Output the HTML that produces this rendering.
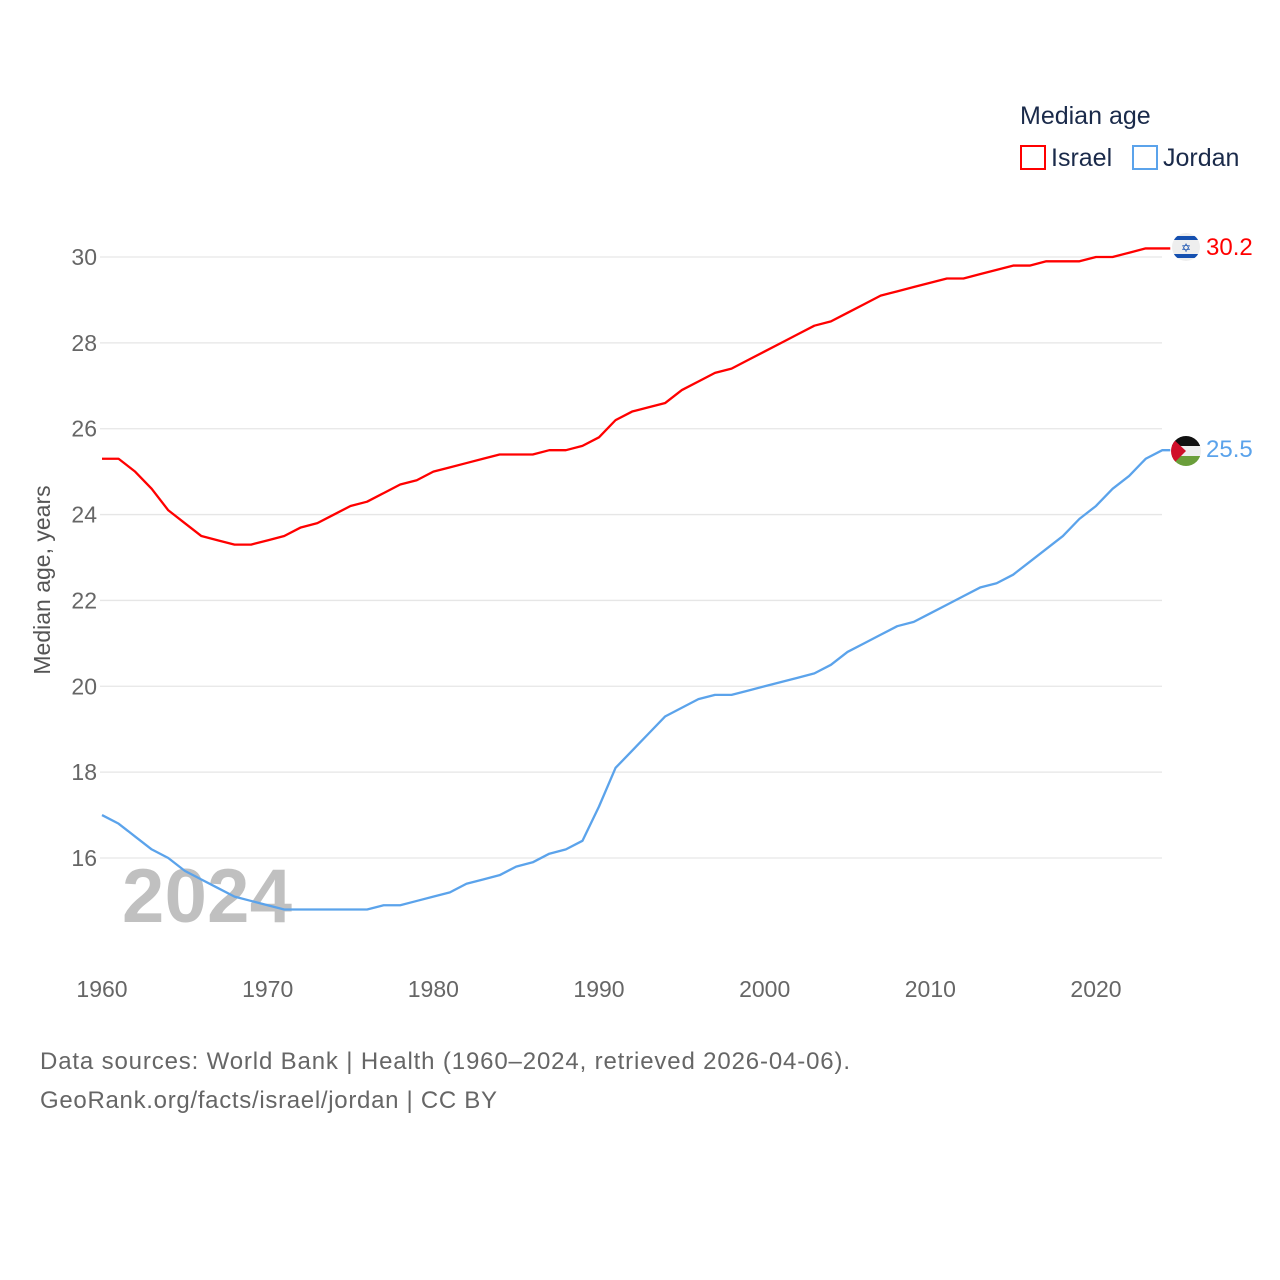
<!DOCTYPE html>
<html><head><meta charset="utf-8"><style>
body{margin:0;background:#fff;font-family:"Liberation Sans",sans-serif}
svg{display:block}
</style></head><body>
<svg id="chart" width="1280" height="1280" xmlns="http://www.w3.org/2000/svg">
<rect width="1280" height="1280" fill="#fff"/>
<g id="grid"></g>
<text x="122" y="922" font-size="76" font-weight="bold" fill="#c0c0c0" textLength="170">2024</text>
<g id="series"></g>
<g id="labels"></g>
<text transform="translate(50,580) rotate(-90)" text-anchor="middle" font-size="23" fill="#555">Median age, years</text>
<text x="1020" y="124" font-size="25" fill="#1a2a4a">Median age</text>
<g><rect x="1021" y="146" width="24" height="23" fill="none" stroke="#ff0000" stroke-width="2"/><text x="1051" y="166" font-size="25" fill="#1a2a4a">Israel</text></g>
<g><rect x="1133" y="146" width="24" height="23" fill="none" stroke="#5ba3eb" stroke-width="2"/><text x="1163" y="166" font-size="25" fill="#1a2a4a">Jordan</text></g>
<g><clipPath id="ci"><circle cx="1186" cy="247" r="14"/></clipPath><g clip-path="url(#ci)"><rect x="1170" y="231" width="32" height="32" fill="#eee"/><rect x="1170" y="236" width="32" height="4" fill="#1550b0"/><rect x="1170" y="254" width="32" height="4" fill="#1550b0"/><text x="1186" y="252" font-size="12" text-anchor="middle" fill="#1550b0">✡</text></g></g>
<g><clipPath id="cj"><circle cx="1186" cy="451" r="15"/></clipPath><g clip-path="url(#cj)"><rect x="1170" y="436" width="32" height="10" fill="#111"/><rect x="1170" y="446" width="32" height="10" fill="#eee"/><rect x="1170" y="456" width="32" height="11" fill="#6a9e3a"/><polygon points="1170,436 1186,451 1170,467" fill="#d0102a"/></g></g>
<text x="1206" y="255" font-size="24" fill="#ff0000">30.2</text>
<text x="1206" y="457" font-size="24" fill="#5ba3eb">25.5</text>
<text x="40" y="1069" font-size="24" fill="#666" textLength="810">Data sources: World Bank | Health (1960–2024, retrieved 2026-04-06).</text>
<text x="40" y="1108" font-size="24" fill="#666" textLength="457">GeoRank.org/facts/israel/jordan | CC BY</text>
</svg>
<script>
const years=[];for(let y=1960;y<=2024;y++)years.push(y);
const israel=[25.3,25.3,25.0,24.6,24.1,23.8,23.5,23.4,23.3,23.3,23.4,23.5,23.7,23.8,24.0,24.2,24.3,24.5,24.7,24.8,25.0,25.1,25.2,25.3,25.4,25.4,25.4,25.5,25.5,25.6,25.8,26.2,26.4,26.5,26.6,26.9,27.1,27.3,27.4,27.6,27.8,28.0,28.2,28.4,28.5,28.7,28.9,29.1,29.2,29.3,29.4,29.5,29.5,29.6,29.7,29.8,29.8,29.9,29.9,29.9,30.0,30.0,30.1,30.2,30.2];
const jordan=[17.0,16.8,16.5,16.2,16.0,15.7,15.5,15.3,15.1,15.0,14.9,14.8,14.8,14.8,14.8,14.8,14.8,14.9,14.9,15.0,15.1,15.2,15.4,15.5,15.6,15.8,15.9,16.1,16.2,16.4,17.2,18.1,18.5,18.9,19.3,19.5,19.7,19.8,19.8,19.9,20.0,20.1,20.2,20.3,20.5,20.8,21.0,21.2,21.4,21.5,21.7,21.9,22.1,22.3,22.4,22.6,22.9,23.2,23.5,23.9,24.2,24.6,24.9,25.3,25.5];
const yTicks=[16,18,20,22,24,26,28,30];
const xTicks=[1960,1970,1980,1990,2000,2010,2020];
const NS="http://www.w3.org/2000/svg";
const x=v=>102+(v-1960)*(1096-102)/60;
const y=v=>858-(v-16)*(601/14);
const grid=document.getElementById('grid'),lab=document.getElementById('labels'),ser=document.getElementById('series');
yTicks.forEach(t=>{
 const l=document.createElementNS(NS,'line');
 l.setAttribute('x1',100);l.setAttribute('x2',1162);l.setAttribute('y1',y(t));l.setAttribute('y2',y(t));
 l.setAttribute('stroke','#e6e6e6');l.setAttribute('stroke-width','1.3');
 
 
 grid.appendChild(l);
 const tx=document.createElementNS(NS,'text');
 tx.setAttribute('x',97);tx.setAttribute('y',y(t)+8);tx.setAttribute('text-anchor','end');
 tx.setAttribute('font-size','23');tx.setAttribute('fill','#666');tx.textContent=t;
 
 
 lab.appendChild(tx);
});
xTicks.forEach(t=>{
 const tx=document.createElementNS(NS,'text');
 tx.setAttribute('x',x(t));tx.setAttribute('y',997);tx.setAttribute('text-anchor','middle');
 tx.setAttribute('font-size','23');tx.setAttribute('fill','#666');tx.textContent=t;
 
 
 lab.appendChild(tx);
});
function line(data,color,name){
 const p=document.createElementNS(NS,'polyline');
 p.setAttribute('points',data.map((v,i)=>x(years[i])+','+y(v)).join(' ')+' '+(x(2024)+8)+','+y(data[data.length-1]));
 p.setAttribute('fill','none');p.setAttribute('stroke',color);p.setAttribute('stroke-width','2.3');p.setAttribute('stroke-linejoin','round');
 
 
 ser.appendChild(p);
}
line(israel,'#ff0000','line-israel');
line(jordan,'#5ba3eb','line-jordan');
</script>
</body></html>
